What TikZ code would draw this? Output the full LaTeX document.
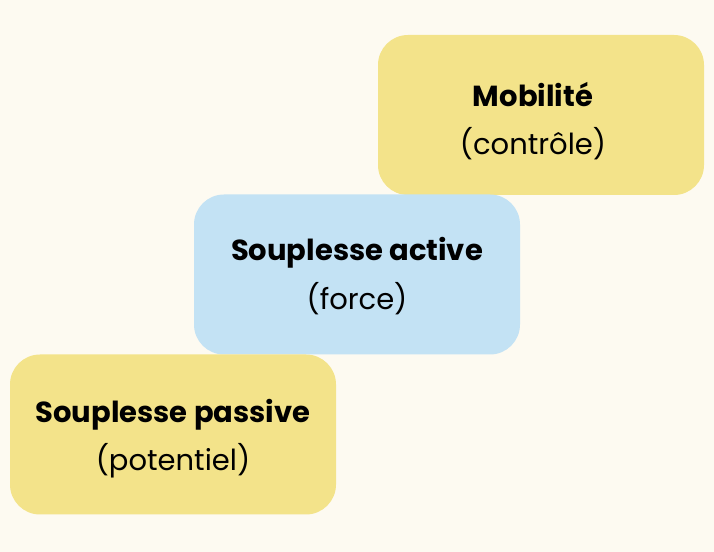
\documentclass[tikz,border=0pt]{standalone}
\usepackage{fontspec}
\setmainfont{Poppins}
\usepackage{tikz}
\usetikzlibrary{positioning,calc}
\definecolor{cFond}{HTML}{FDFAF1}
\definecolor{cJaune}{HTML}{F3E38A}
\definecolor{cBleu}{HTML}{C3E2F4}
\definecolor{cInk}{HTML}{000000}
\tikzset{
  bloc/.style={rectangle,rounded corners=0.6cm,minimum width=6.52cm,minimum height=3.2cm,inner sep=0pt},
  blocjaune/.style={bloc,fill=cJaune},
  blocbleu/.style={bloc,fill=cBleu},
  texte/.style={align=center,text=cInk,inner sep=0pt,font=\fontsize{16.5}{27.5}\selectfont},
}

\begin{document}
\begin{tikzpicture}
  \fill[cFond] (0,0) rectangle (14.28,-11.04);
  \useasboundingbox (0,0) rectangle (14.28,-11.04);
  \node[blocjaune] (mob) at (10.82,-2.30) {};
  \node[blocbleu] (act) at (7.14,-5.49) {};
  \node[blocjaune] (pas) at (3.46,-8.69) {};
  \node[texte] (mobtxt) at ($(mob)+(-0.16,-0.12)$) {\textbf{Mobilité}\\(contrôle)};
  \node[texte] (acttxt) at ($(act)+(0,-0.03)$) {\textbf{Souplesse active}\\(force)};
  \node[texte] (pastxt) at ($(pas)+(0,-0.08)$) {\textbf{Souplesse passive}\\(potentiel)};
\end{tikzpicture}
\end{document}
